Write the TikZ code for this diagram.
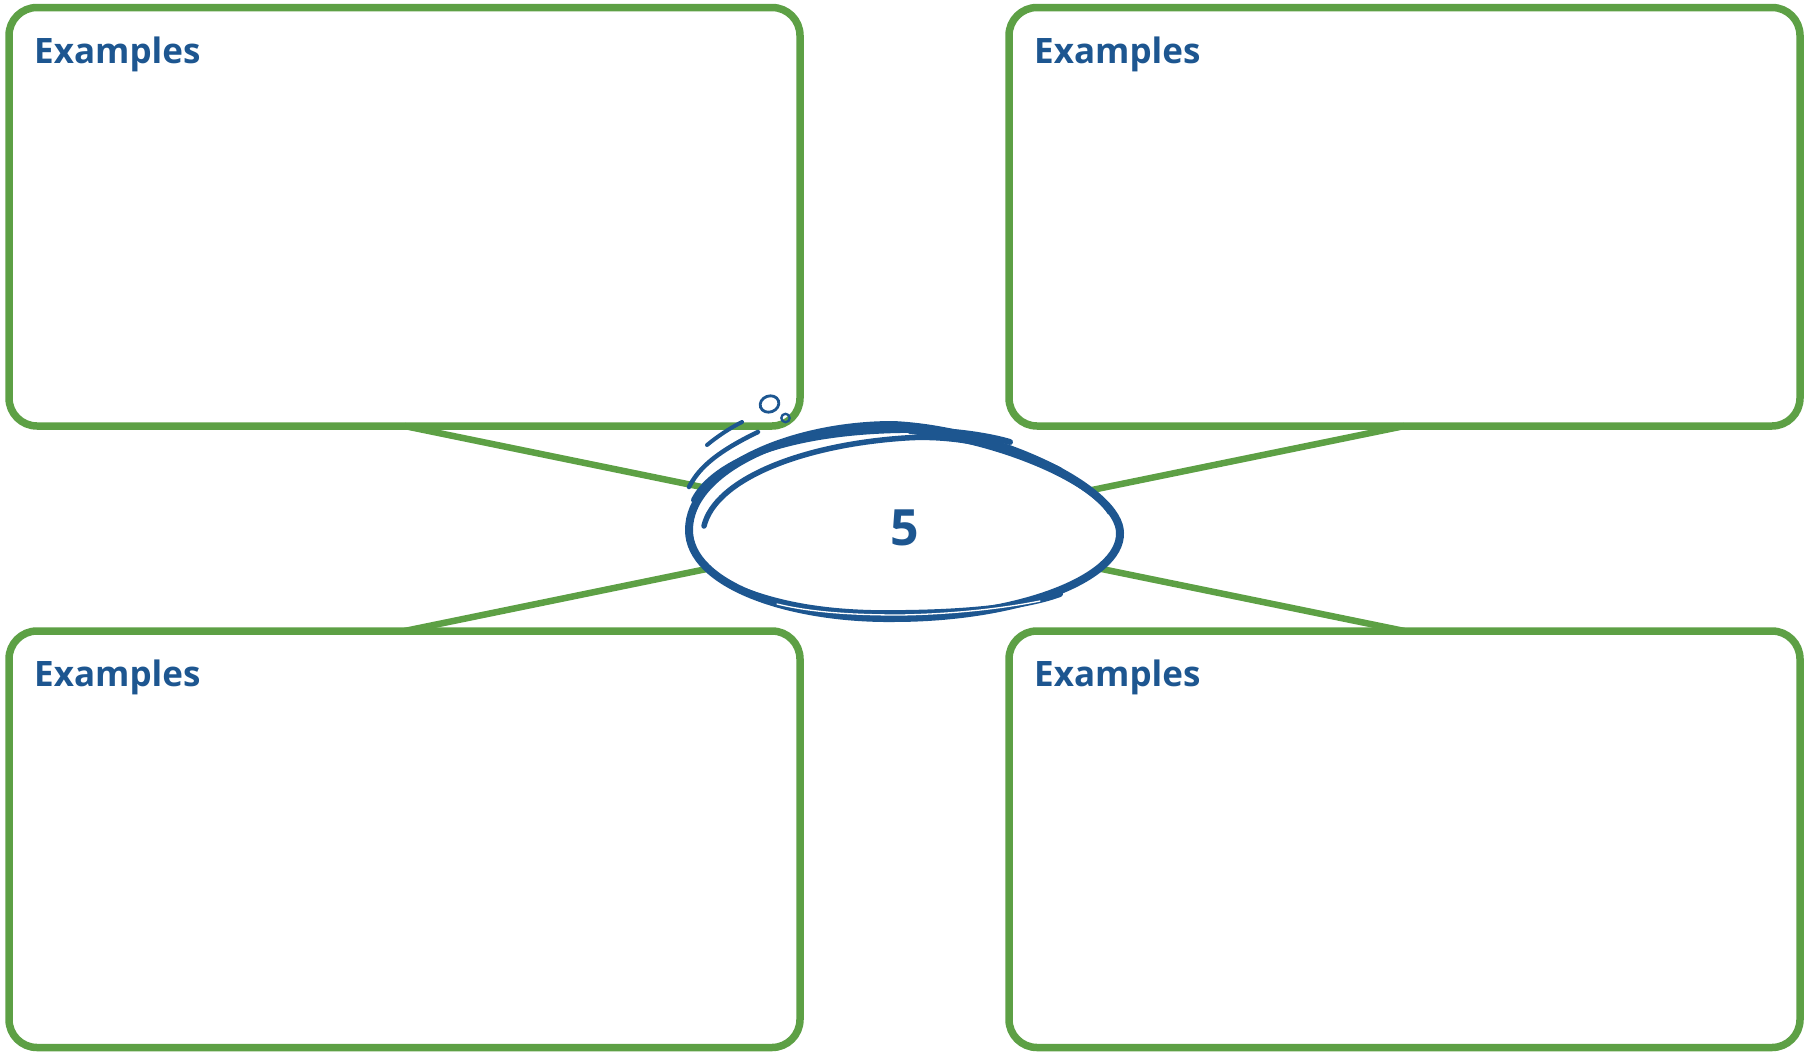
\documentclass[tikz,border=0pt]{standalone}
\usepackage{fontspec}
\setmainfont{Open Sans}
\definecolor{grn}{RGB}{93,160,69}
\definecolor{blu}{RGB}{29,86,144}
\begin{document}
\begin{tikzpicture}[x=1pt,y=-1pt,
  exbox/.style={draw=grn, line width=7.5pt, rounded corners=28pt, rectangle,
    minimum width=791pt, outer sep=0pt, inner sep=0pt},
  conn/.style={draw=grn, line width=6.5pt},
  lbl/.style={text=blu, font=\fontsize{35}{40}\selectfont\bfseries, inner sep=0pt, anchor=base west},
  sk/.style={draw=blu, line cap=round, line join=round},
  numlbl/.style={text=blu, font=\fontsize{50}{56}\selectfont\bfseries, inner sep=0pt}]
\useasboundingbox (0,0) rectangle (1804,1052);
% boxes
\node[exbox, minimum height=418.5pt] (tl) at (404.5,216.75) {};
\node[exbox, minimum height=418.5pt] (tr) at (1404.5,216.75) {};
\node[exbox, minimum height=416.5pt] (bl) at (404.5,839.25) {};
\node[exbox, minimum height=416.5pt] (br) at (1404.5,839.25) {};
% labels
\node[lbl] (tlt) at ([shift={(25pt,-55.5pt)}]tl.north west) {Examples};
\node[lbl] (trt) at ([shift={(25pt,-55.5pt)}]tr.north west) {Examples};
\node[lbl] (blt) at ([shift={(25pt,-55.5pt)}]bl.north west) {Examples};
\node[lbl] (brt) at ([shift={(25pt,-55.5pt)}]br.north west) {Examples};
% connectors
\coordinate (hc) at (904,528.5);
\draw[conn] (tl.south) -- (hc);
\draw[conn] (tr.south) -- (hc);
\draw[conn] (bl.north) -- (hc);
\draw[conn] (br.north) -- (hc);
% hub: sketchy ellipse
\path[sk, fill=white, line width=8pt]
  (689,530) .. controls (689,585) and (790,619) .. (893,618)
  .. controls (1020,618) and (1121,578) .. (1120,533)
  .. controls (1120,490) and (1000,430) .. (893,425)
  .. controls (790,425) and (689,470) .. (689,530);
% middle top stroke
\draw[sk, line width=6pt] (694,500) .. controls (715,460) and (790,432) .. (900,430)
  .. controls (950,429) and (990,436) .. (1010,442);
% inner top-left stroke
\draw[sk, line width=5.5pt] (704,526) .. controls (715,480) and (800,445) .. (905,438)
  .. controls (960,434) and (1020,450) .. (1060,470);
% right top thickening
\draw[sk, line width=6pt] (910,431) .. controls (1000,440) and (1090,480) .. (1110,512);
% bottom double stroke
\draw[sk, line width=6pt] (745,591) .. controls (800,612) and (860,614) .. (905,613)
  .. controls (980,612) and (1030,605) .. (1060,594);
\draw[white, line width=1.3pt, line cap=round] (777,604) .. controls (810,612) and (850,615) .. (900,615)
  .. controls (960,614) and (1010,607) .. (1040,601);
% flourish strokes
\draw[sk, line width=4pt] (707,445) .. controls (718,436) and (730,428) .. (742,422);
\draw[sk, line width=4.5pt] (689,487) .. controls (697,472) and (710,455) .. (758,432);
% small circles
\draw[blu, line width=2.8pt, rotate around={20:(769.5,404)}] (769.5,404) ellipse [x radius=9.5pt, y radius=8pt];
\draw[blu, line width=2.3pt] (785.5,418) circle [radius=4.2pt];
% number
\node[numlbl] (hub) at (905,528) {5};
\end{tikzpicture}
\end{document}
